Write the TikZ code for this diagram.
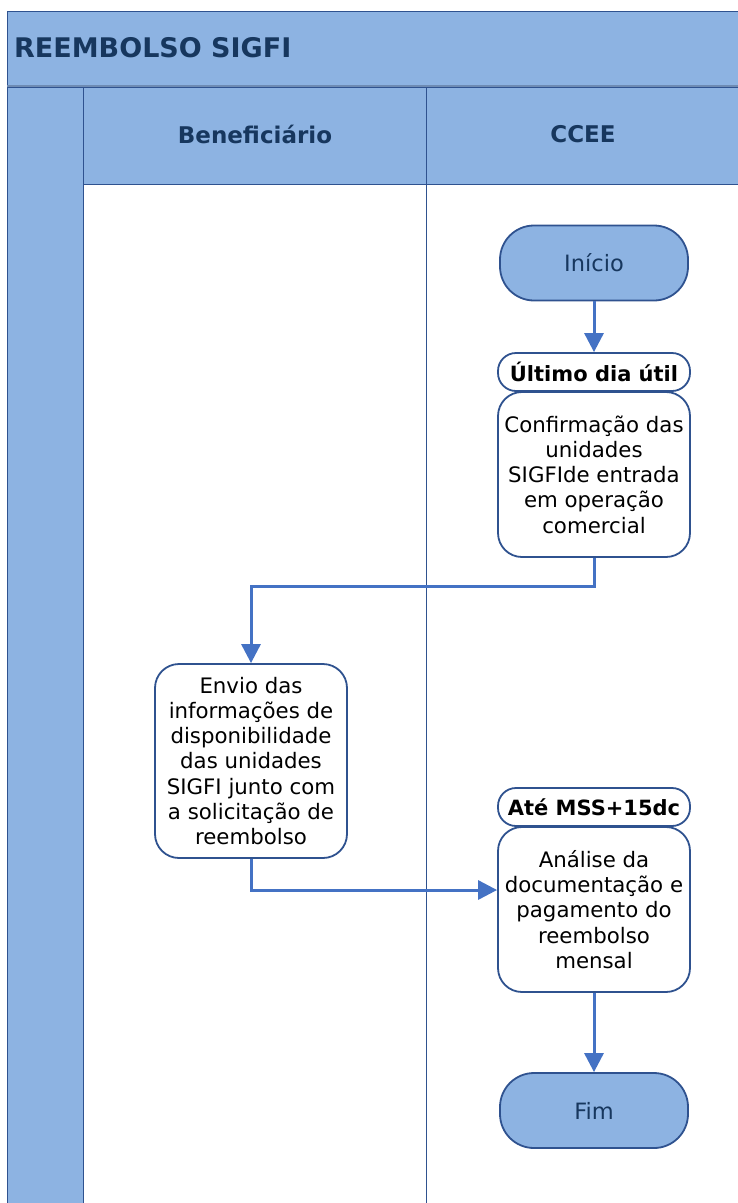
\documentclass[tikz,border=0pt]{standalone}
\usepackage{fontspec}
\setmainfont{DejaVu Sans}
\usetikzlibrary{arrows.meta}
\definecolor{lanefill}{HTML}{8DB3E2}
\definecolor{laneline}{HTML}{2F528F}
\definecolor{sepline}{HTML}{6E8BB3}
\definecolor{arrowblue}{HTML}{4472C4}
\definecolor{titleblue}{HTML}{17375E}
\begin{document}
\begin{tikzpicture}[x=1pt,y=-1pt,
  lane/.style={draw=laneline, fill=lanefill, line width=0.9pt},
  titletext/.style={font=\fontsize{27}{32}\selectfont\bfseries, text=titleblue, inner sep=0pt},
  headtext/.style={font=\fontsize{23}{28}\selectfont\bfseries, text=titleblue, inner sep=0pt},
  terminal/.style={rectangle, rounded corners=34pt, draw=laneline, fill=lanefill, line width=1.8pt,
    minimum width=188pt, minimum height=75pt, inner sep=0pt,
    font=\fontsize{22.5}{27}\selectfont, text=titleblue},
  tagbox/.style={rectangle, rounded corners=18pt, draw=laneline, fill=white, line width=1.8pt,
    minimum width=192pt, minimum height=38pt, inner sep=0pt,
    font=\fontsize{21}{25}\selectfont\bfseries, text=black},
  procbox/.style={rectangle, rounded corners=24pt, draw=laneline, fill=white, line width=1.8pt,
    minimum width=192pt, inner sep=0pt, align=center,
    font=\fontsize{21.3}{25.3}\selectfont, text=black},
  flow/.style={draw=arrowblue, line width=3pt, -{Triangle[length=19pt,width=19pt]}}
]
\useasboundingbox (0,0) rectangle (738,1203);
% title band
\draw[lane] (7,11) rectangle (750,85);
\draw[sepline, line width=2pt] (7,86) -- (750,86);
% left strip
\draw[lane] (7,87) rectangle (83,1215);
% header row
\draw[lane] (83,87) rectangle (750,184);
\draw[laneline, line width=0.9pt] (426,87) -- (426,1215);
\draw[laneline, line width=0.9pt] (83,184) -- (83,1215);

\node[titletext, anchor=west] (title) at (14,48) {REEMBOLSO SIGFI};
\node[headtext] (hbenef) at (255,134) {Beneficiário};
\node[headtext] (hccee) at (583,134) {CCEE};

% nodes
\node[terminal] (inicio) at (594,263) {Início};
\node[tagbox] (tag1) at (594,372) {Último dia útil};
\node[procbox, minimum height=165pt] (conf) at (594,474.5) {Confirmação das\\unidades\\SIGFIde entrada\\em operação\\comercial};
\node[procbox, minimum height=194pt] (envio) at (251,761) {Envio das\\informações de\\disponibilidade\\das unidades\\SIGFI junto com\\a solicitação de\\reembolso};
\node[tagbox] (tag2) at (594,807) {Até MSS+15dc};
\node[procbox, minimum height=165pt] (anal) at (594,909.5) {Análise da\\documentação e\\pagamento do\\reembolso\\mensal};
\node[terminal] (fim) at (594,1110.5) {Fim};

% connectors
\coordinate (c1) at (594,586);
\coordinate (c2) at (251,586);
\coordinate (c3) at (251,890);
\draw[flow] (inicio.south) -- (tag1.north);
\draw[flow] (conf.south) -- (c1) -- (c2) -- (envio.north);
\draw[flow] (envio.south) -- (c3) -- (c3 -| anal.west);
\draw[flow] (anal.south) -- (fim.north);
\end{tikzpicture}
\end{document}
